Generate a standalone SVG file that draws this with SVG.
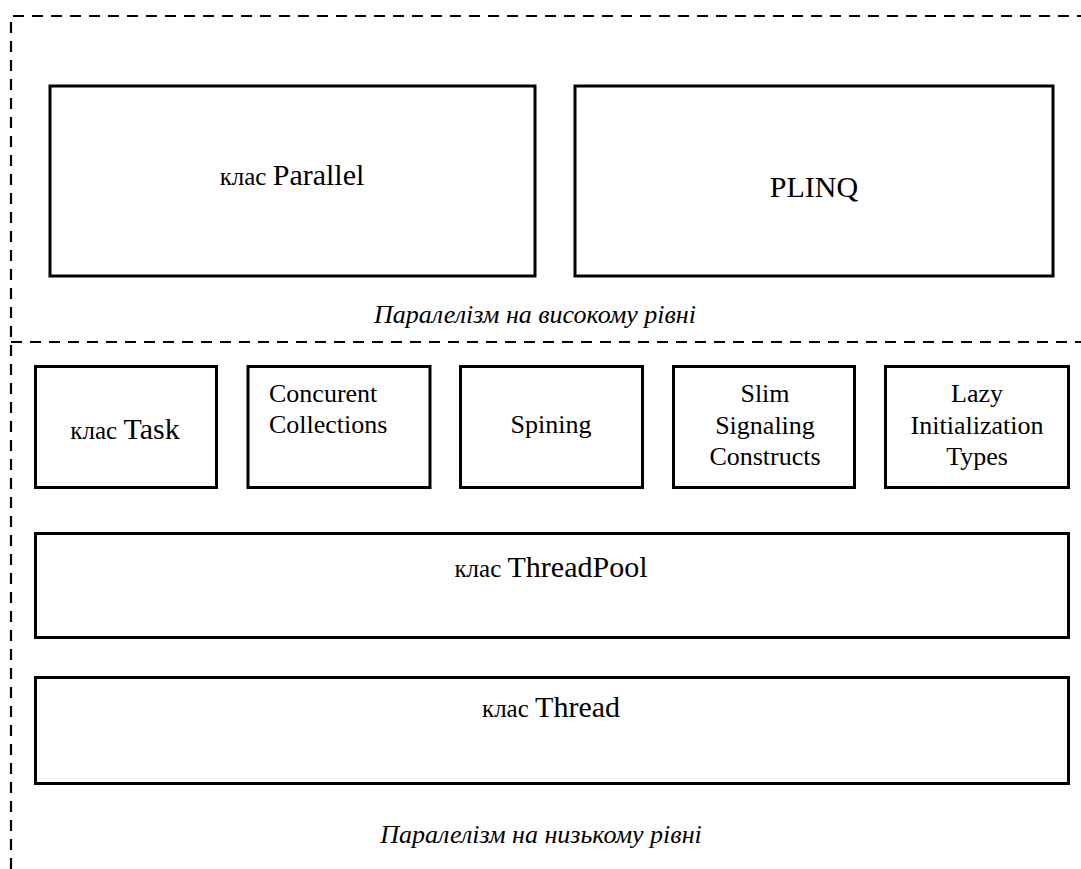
<svg xmlns="http://www.w3.org/2000/svg" width="1081" height="869" viewBox="0 0 1081 869">
<style>
.box{fill:#fff;stroke:#000;stroke-width:3}
.dash{fill:none;stroke:#000;stroke-width:2.2;stroke-dasharray:11 8}
text{font-family:"Liberation Serif","Times New Roman",serif;fill:#000}
.t{font-size:26px}
.big{font-size:30px}
.sm{font-size:25px}
.it{font-size:26px;font-style:italic}
</style>
<rect width="1081" height="869" fill="#fff"/>
<g id="boundary">
<path class="dash" d="M11 869 V16 H1081"/>
<path class="dash" d="M11 342 H1081"/>
</g>
<g id="high-label"><text class="it" x="535" y="323" text-anchor="middle">Паралелізм на високому рівні</text></g>
<g id="low-label"><text class="it" x="541" y="843" text-anchor="middle">Паралелізм на низькому рівні</text></g>
<g id="parallel">
<rect class="box" x="50" y="86" width="485" height="190"/>
<text x="292" y="185" text-anchor="middle"><tspan class="sm">клас </tspan><tspan class="big">Parallel</tspan></text>
</g>
<g id="plinq">
<rect class="box" x="575" y="86" width="478" height="190"/>
<text class="big" x="814" y="197" text-anchor="middle">PLINQ</text>
</g>
<g id="task">
<rect class="box" x="35.5" y="366.5" width="181" height="121"/>
<text x="125" y="439" text-anchor="middle"><tspan class="sm">клас </tspan><tspan class="big">Task</tspan></text>
</g>
<g id="concurent">
<rect class="box" x="248" y="366.5" width="182" height="121"/>
<text class="t" x="269" y="402">Concurent</text>
<text class="t" x="269" y="433">Collections</text>
</g>
<g id="spining">
<rect class="box" x="460.5" y="366.5" width="182" height="121"/>
<text class="t" x="551" y="433" text-anchor="middle">Spining</text>
</g>
<g id="slim">
<rect class="box" x="673.5" y="366.5" width="181" height="121"/>
<text class="t" x="765" y="402" text-anchor="middle">Slim</text>
<text class="t" x="765" y="434" text-anchor="middle">Signaling</text>
<text class="t" x="765" y="465" text-anchor="middle">Constructs</text>
</g>
<g id="lazy">
<rect class="box" x="885.5" y="366.5" width="183" height="121"/>
<text class="t" x="977" y="402" text-anchor="middle">Lazy</text>
<text class="t" x="977" y="434" text-anchor="middle">Initialization</text>
<text class="t" x="977" y="465" text-anchor="middle">Types</text>
</g>
<g id="threadpool">
<rect class="box" x="35.5" y="533.5" width="1033" height="104"/>
<text x="551" y="577" text-anchor="middle"><tspan class="sm">клас </tspan><tspan class="big">ThreadPool</tspan></text>
</g>
<g id="thread">
<rect class="box" x="35.5" y="677.5" width="1033" height="106"/>
<text x="551" y="717" text-anchor="middle"><tspan class="sm">клас </tspan><tspan class="big">Thread</tspan></text>
</g>
</svg>
